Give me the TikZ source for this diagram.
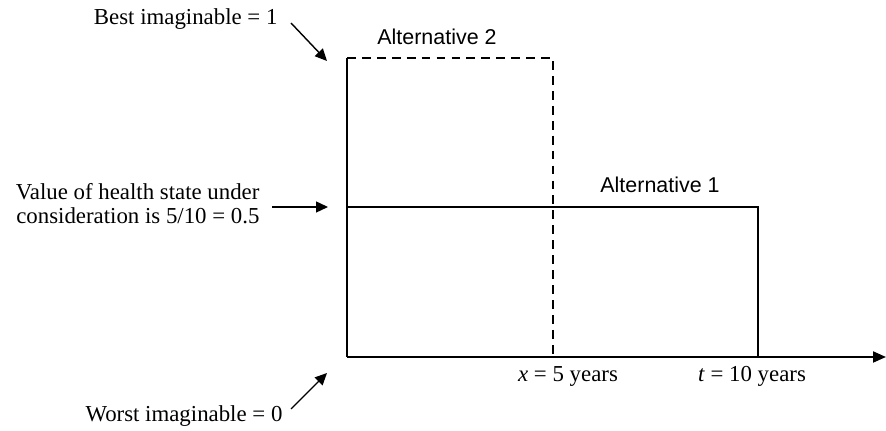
\documentclass[tikz,border=0pt]{standalone}
\usepackage{fontspec}
\setmainfont{Liberation Serif}
\setsansfont{Liberation Sans}
\usetikzlibrary{arrows.meta, positioning}
\tikzset{
  every picture/.style={line width=0.9pt},
  note/.style={font=\fontsize{13}{13.8}\selectfont, inner sep=1pt},
  altname/.style={font=\sffamily\fontsize{12.2}{14}\selectfont, inner sep=1pt},
  pointer/.style={-{Triangle[length=2.4mm, width=2.2mm]}, line width=0.8pt},
  axisline/.style={-{Triangle[length=2.6mm, width=2.2mm]}, line width=1.1pt},
}

\begin{document}
\begin{tikzpicture}[x=0.02cm, y=-0.02cm]
  \useasboundingbox (0,0) rectangle (886,431);
  % corners of the two alternatives
  \coordinate (origin) at (347,357);
  \coordinate (axisend) at (886,357);
  \coordinate (top) at (347,58);
  \coordinate (xtop) at (553,58);
  \coordinate (xfoot) at (553,357);
  \coordinate (half) at (347,207);
  \coordinate (tcorner) at (758,207);
  \coordinate (tfoot) at (758,357);
  % time axis and value scale
  \draw[axisline] (origin) -- (axisend);
  \draw (origin) -- (top);
  % alternative 2: full health until x
  \draw[dashed, dash pattern=on 5pt off 3.5pt] (top) -- (xtop) -- (xfoot);
  % alternative 1: the state itself until t
  \draw (half) -- (tcorner) -- (tfoot);
  \node[altname] (alt2) at (437,37) {Alternative 2};
  \node[altname] (alt1) at (660,185) {Alternative 1};
  \node[note] (xlab) at (568,376) {\textit{x} = 5 years};
  \node[note] (tlab) at (752,376) {\textit{t} = 10 years};
  % what the ends of the scale mean
  \node[note, anchor=east] (best) at (280,19) {Best imaginable = 1};
  \node[note, anchor=east, align=right] (value) at (262,204)
    {Value of health state under\\ consideration is 5/10 = 0.5};
  \node[note, anchor=east] (worst) at (285,416) {Worst imaginable = 0};
  \coordinate (besttip) at (327,61);
  \coordinate (valuetip) at (328,207);
  \coordinate (worsttip) at (327,373);
  \draw[pointer] (best.east) ++(11,4) -- (besttip);
  \draw[pointer] (value.east) ++(10,3) -- (valuetip);
  \draw[pointer] (worst.east) ++(6,-7) -- (worsttip);
\end{tikzpicture}
\end{document}
